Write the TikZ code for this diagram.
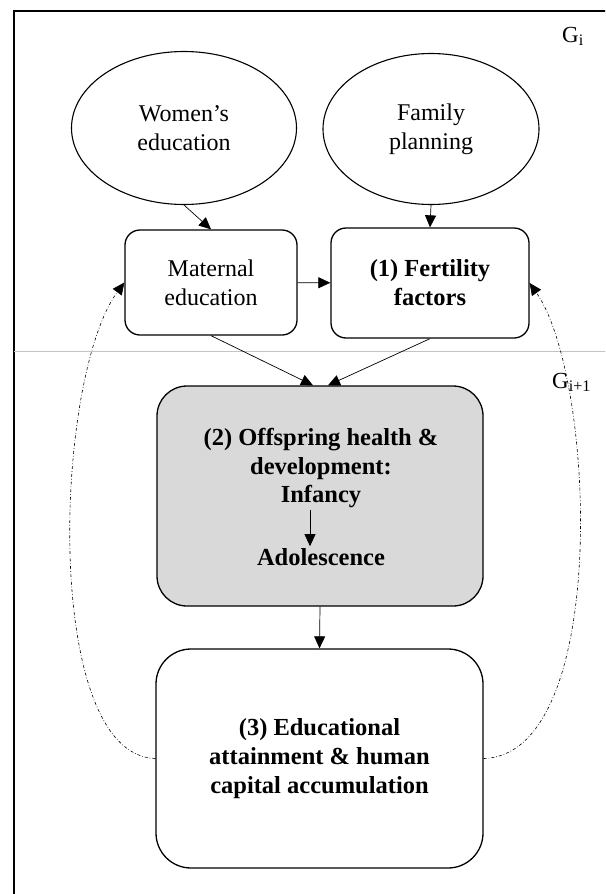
\documentclass[tikz,border=0pt]{standalone}
\usepackage{fontspec}
\setmainfont{Liberation Serif}
\usetikzlibrary{arrows.meta,shapes.geometric}
\definecolor{stagegray}{HTML}{D9D9D9}
\definecolor{splitgray}{HTML}{C4C4C4}
\tikzset{
  factor/.style={draw, ellipse, line width=1.1pt, inner sep=0pt, align=center, font=\fontsize{24}{29}\selectfont},
  stage/.style={draw, rounded corners=15pt, line width=1.3pt, inner sep=0pt, align=center, font=\fontsize{24}{29}\selectfont},
  boldtext/.style={font=\fontsize{24.5}{29}\selectfont\bfseries},
  flow/.style={-{Triangle[length=12pt,width=11pt]}, line width=0.7pt},
  feedback/.style={flow, dash dot, line width=0.6pt},
  genlabel/.style={inner sep=0pt, anchor=base west, font=\fontsize{23}{27}\selectfont}
}

\begin{document}
\begin{tikzpicture}[x=1pt,y=-1pt]
\useasboundingbox (0,0) rectangle (605,894);
\clip (0,0) rectangle (605,894);
\fill[white] (0,0) rectangle (605,894);

% Outer frame and generation split
\draw[line width=1.5pt] (14,11) rectangle (640,930);
\draw[line width=1pt, splitgray] (14,351) -- (610,351);

% Generation labels
\node[genlabel] (gi) at (562,42) {G\textsubscript{i}};
\node[genlabel] (gnext) at (552,388) {G\textsubscript{i+1}};

% Upstream factors
\node[factor, minimum width=225pt, minimum height=153pt] (women) at (184,128) {Women’s\\education};
\node[factor, minimum width=216pt, minimum height=151pt] (family) at (431,129) {Family\\planning};

% Generation i boxes
\node[stage, minimum width=172pt, minimum height=105pt] (maternal) at (211,282.5) {Maternal\\education};
\node[stage, boldtext, minimum width=198pt, minimum height=110pt] (fertility) at (430,283) {(1) Fertility\\factors};

% Offspring box
\node[stage, fill=stagegray, rounded corners=30pt, minimum width=326pt, minimum height=220pt] (offspring) at (320,496) {};
\node[boldtext, align=center, inner sep=2pt] (offtitle) at (321,454) {(2) Offspring health \&\\development:};
\node[boldtext, inner sep=2pt] (infancy) at (321,497) {Infancy};
\node[boldtext, inner sep=2pt] (adolescence) at (321,557) {Adolescence};

% Education box
\node[stage, boldtext, rounded corners=35pt, minimum width=327pt, minimum height=219pt] (education) at (319.5,758.5) {(3) Educational\\attainment \& human\\capital accumulation};

% Flows
\draw[flow] (women.south) -- (maternal.north);
\draw[flow] (family.south) -- (fertility.north);
\draw[flow] (maternal) -- (fertility);
\draw[flow] (maternal.south) -- ([xshift=-7pt]offspring.north);
\draw[flow] (fertility.south) -- ([xshift=8pt]offspring.north);
\draw[flow] ([xshift=-11pt]infancy.south) -- ([xshift=-11pt]adolescence.north);
\draw[flow] (offspring.south) -- (education.north);

% Feedback to next generation
\draw[feedback] (education.west) .. controls (42,755) and (54,378) .. (maternal.west);
\draw[feedback] (education.east) .. controls (610,755) and (596,378) .. (fertility.east);

\end{tikzpicture}
\end{document}
